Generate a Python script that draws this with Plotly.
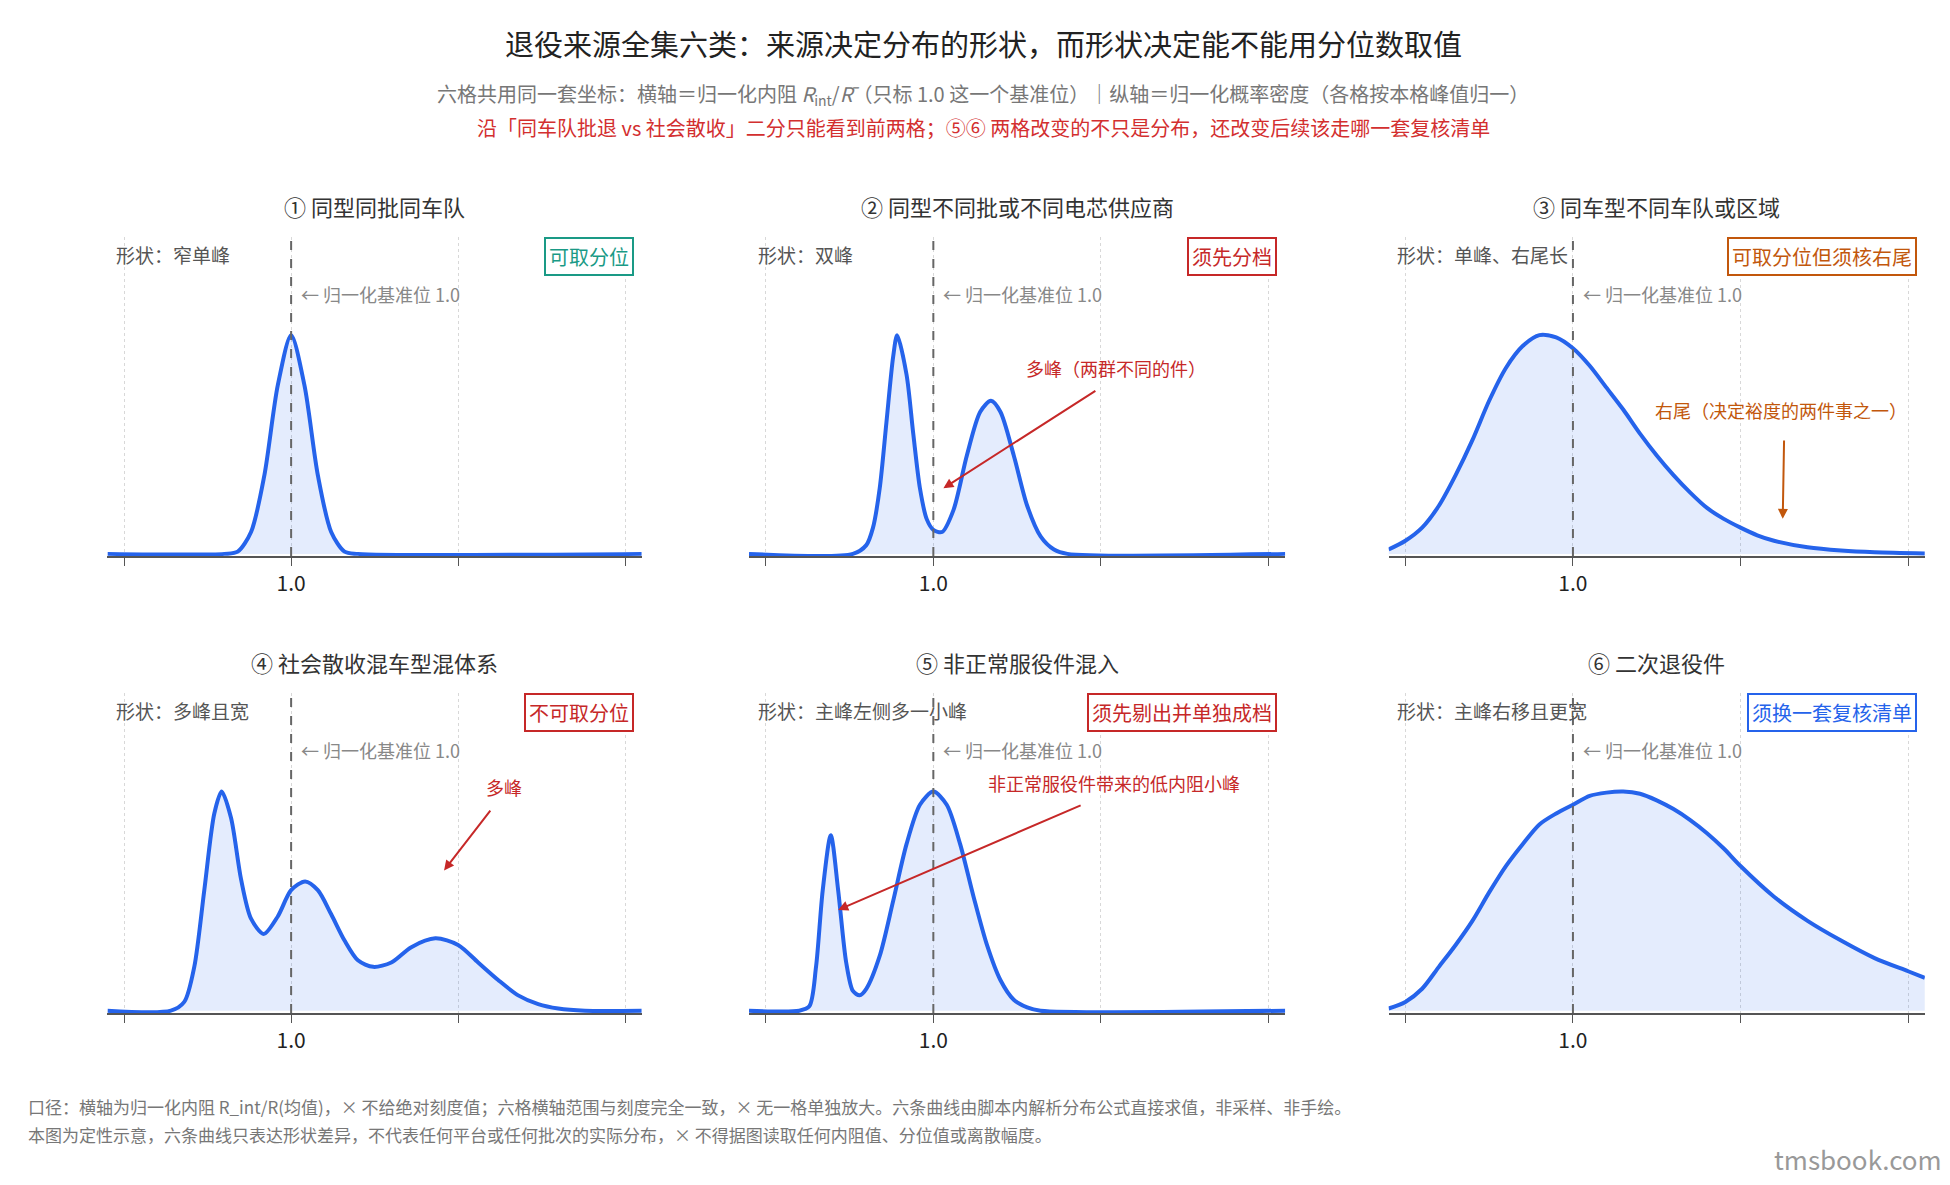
import plotly.graph_objects as go

# six panels: x = normalized R_int, y = density normalized to each panel's peak
p1_x = [0.725, 0.90, 0.92, 0.94, 0.96, 0.98, 1.0, 1.02, 1.04, 1.06, 1.08, 1.10, 1.525]
p1_y = [0, 0, 0.01, 0.1, 0.36, 0.77, 1.0, 0.77, 0.36, 0.1, 0.01, 0, 0]

p2_x = [0.725, 0.88, 0.90, 0.91, 0.92, 0.93, 0.94, 0.946, 0.96, 0.97, 0.98, 0.99, 1.0, 1.013, 1.03, 1.05,
        1.07, 1.086, 1.10, 1.12, 1.14, 1.16, 1.18, 1.20, 1.525]
p2_y = [0, 0, 0.04, 0.12, 0.3, 0.6, 0.9, 1.0, 0.82, 0.55, 0.3, 0.16, 0.11, 0.10, 0.2, 0.45,
        0.65, 0.70, 0.65, 0.45, 0.22, 0.08, 0.02, 0, 0]

p3_x = [0.725, 0.75, 0.775, 0.80, 0.825, 0.85, 0.875, 0.90, 0.925, 0.95, 0.975, 1.0, 1.025, 1.05, 1.075,
        1.10, 1.125, 1.15, 1.175, 1.20, 1.225, 1.25, 1.275, 1.30, 1.35, 1.40, 1.45, 1.525]
p3_y = [0.02, 0.06, 0.12, 0.22, 0.36, 0.52, 0.7, 0.85, 0.95, 1.0, 0.99, 0.94, 0.86, 0.76, 0.66,
        0.55, 0.45, 0.36, 0.28, 0.21, 0.16, 0.12, 0.085, 0.06, 0.03, 0.015, 0.007, 0.002]

p4_x = [0.725, 0.82, 0.84, 0.855, 0.87, 0.885, 0.896, 0.91, 0.925, 0.94, 0.959, 0.98, 1.0, 1.021, 1.04,
        1.06, 1.08, 1.10, 1.123, 1.15, 1.18, 1.216, 1.25, 1.28, 1.31, 1.34, 1.37, 1.40, 1.44, 1.525]
p4_y = [0, 0, 0.04, 0.2, 0.55, 0.9, 1.0, 0.88, 0.6, 0.42, 0.35, 0.43, 0.55, 0.59, 0.55,
        0.44, 0.32, 0.23, 0.2, 0.22, 0.29, 0.33, 0.3, 0.22, 0.14, 0.07, 0.03, 0.01, 0, 0]

p5_x = [0.725, 0.80, 0.815, 0.825, 0.835, 0.847, 0.858, 0.87, 0.88, 0.89, 0.90, 0.92, 0.94, 0.96, 0.98,
        1.0, 1.02, 1.04, 1.06, 1.08, 1.10, 1.12, 1.14, 1.16, 1.525]
p5_y = [0, 0, 0.02, 0.2, 0.55, 0.80, 0.55, 0.22, 0.09, 0.07, 0.1, 0.25, 0.5, 0.76, 0.94,
        1.0, 0.94, 0.76, 0.52, 0.3, 0.14, 0.05, 0.015, 0, 0]

p6_x = [0.725, 0.75, 0.775, 0.80, 0.825, 0.85, 0.875, 0.90, 0.925, 0.95, 0.975, 1.0, 1.025, 1.05, 1.075,
        1.10, 1.125, 1.15, 1.175, 1.20, 1.225, 1.25, 1.30, 1.35, 1.40, 1.45, 1.50, 1.525]
p6_y = [0.01, 0.04, 0.1, 0.2, 0.3, 0.41, 0.54, 0.66, 0.76, 0.85, 0.9, 0.94, 0.98, 0.995, 1.0,
        0.99, 0.96, 0.92, 0.87, 0.81, 0.74, 0.66, 0.52, 0.41, 0.32, 0.24, 0.18, 0.15]

titles = ["① 同型同批同车队", "② 同型不同批或不同电芯供应商", "③ 同车型不同车队或区域",
          "④ 社会散收混车型混体系", "⑤ 非正常服役件混入", "⑥ 二次退役件"]
shapes_txt = ["形状：窄单峰", "形状：双峰", "形状：单峰、右尾长",
              "形状：多峰且宽", "形状：主峰左侧多一小峰", "形状：主峰右移且更宽"]
badges = ["可取分位", "须先分档", "可取分位但须核右尾", "不可取分位", "须先剔出并单独成档", "须换一套复核清单"]
badge_colors = ["#1a9a86", "#c62828", "#c2570c", "#c62828", "#c62828", "#2563eb"]
tick_vals = [0.75, 1.0, 1.25, 1.5]
tick_text = ["", "1.0", "", ""]

FONT = "Noto Sans CJK SC"
BLUE = "#2563eb"
series = [(p1_x, p1_y), (p2_x, p2_y), (p3_x, p3_y), (p4_x, p4_y), (p5_x, p5_y), (p6_x, p6_y)]
xdoms = [[0.051, 0.325], [0.380, 0.655], [0.708, 0.983]]
ydoms = [[0.5375, 0.807], [0.152, 0.422]]

fig = go.Figure()
ann = []
shp = []
for i, (xs, ys) in enumerate(series):
    n = i + 1
    xa = "x" if n == 1 else f"x{n}"
    ya = "y" if n == 1 else f"y{n}"
    row, col = divmod(i, 3)
    fig.add_trace(go.Scatter(x=xs, y=ys, mode="lines", line=dict(color=BLUE, width=4, shape="spline", smoothing=0.8),
                             fill="tozeroy", fillcolor="rgba(37,99,235,0.12)", xaxis=xa, yaxis=ya,
                             showlegend=False, hoverinfo="skip"))
    fig.layout[f"xaxis{'' if n == 1 else n}"] = dict(
        domain=xdoms[col], anchor=ya, range=[0.725, 1.525], tickvals=tick_vals, ticktext=tick_text,
        ticks="outside", ticklen=8, tickcolor="#555", showline=True, linecolor="#555", linewidth=1.5,
        showgrid=True, gridcolor="#d8d8d8", griddash="dot", zeroline=False,
        tickfont=dict(size=21, color="#222", family=FONT))
    fig.layout[f"yaxis{'' if n == 1 else n}"] = dict(
        domain=ydoms[row], anchor=xa, range=[-0.01, 1.45], visible=False)
    # baseline marker at 1.0
    shp.append(dict(type="line", xref=xa, yref=f"{ya} domain", x0=1.0, x1=1.0, y0=0, y1=1,
                    line=dict(color="#666", width=2, dash="dash")))
    ann.append(dict(text=titles[i], xref=f"{xa} domain", yref="paper", x=0.5, y=ydoms[row][1] + 0.011,
                    showarrow=False, font=dict(size=22, color="#333", family=FONT), yanchor="bottom"))
    ann.append(dict(text=shapes_txt[i], xref=xa, yref=ya, x=0.735, y=1.37, xanchor="left",
                    showarrow=False, font=dict(size=19, color="#555", family=FONT)))
    ann.append(dict(text=badges[i], xref=f"{xa} domain", yref=ya, x=0.985, y=1.36, xanchor="right",
                    showarrow=False, font=dict(size=20, color=badge_colors[i], family=FONT),
                    bordercolor=badge_colors[i], borderwidth=2, borderpad=3, bgcolor="white"))
    ann.append(dict(text="← 归一化基准位 1.0", xref=xa, yref=ya, x=1.012, y=1.19, xanchor="left",
                    showarrow=False, font=dict(size=18, color="#888", family=FONT)))

RED = "#c62828"
ORANGE = "#c2570c"
ann += [
    dict(text="多峰（两群不同的件）", xref="x2", yref="y2", x=1.272, y=0.85, showarrow=False,
         font=dict(size=18, color=RED, family=FONT)),
    dict(x=1.015, y=0.30, ax=1.244, ay=0.75, xref="x2", yref="y2", axref="x2", ayref="y2",
         showarrow=True, arrowhead=2, arrowwidth=2, arrowcolor=RED, text=""),
    dict(text="右尾（决定裕度的两件事之一）", xref="x3", yref="y3", x=1.311, y=0.66, showarrow=False,
         font=dict(size=18, color=ORANGE, family=FONT)),
    dict(x=1.313, y=0.16, ax=1.315, ay=0.525, xref="x3", yref="y3", axref="x3", ayref="y3",
         showarrow=True, arrowhead=2, arrowwidth=2, arrowcolor=ORANGE, text=""),
    dict(text="多峰", xref="x4", yref="y4", x=1.319, y=1.02, showarrow=False,
         font=dict(size=18, color=RED, family=FONT)),
    dict(x=1.229, y=0.64, ax=1.30, ay=0.92, xref="x4", yref="y4", axref="x4", ayref="y4",
         showarrow=True, arrowhead=2, arrowwidth=2, arrowcolor=RED, text=""),
    dict(text="非正常服役件带来的低内阻小峰", xref="x5", yref="y5", x=1.27, y=1.04, showarrow=False,
         font=dict(size=18, color=RED, family=FONT)),
    dict(x=0.858, y=0.46, ax=1.222, ay=0.94, xref="x5", yref="y5", axref="x5", ayref="y5",
         showarrow=True, arrowhead=2, arrowwidth=2, arrowcolor=RED, text=""),
    dict(text="退役来源全集六类：来源决定分布的形状，而形状决定能不能用分位数取值", xref="paper", yref="paper",
         x=0.5, y=0.99, showarrow=False, font=dict(size=29, color="#222", family=FONT)),
    dict(text="六格共用同一套坐标：横轴＝归一化内阻 <i>R</i><sub>int</sub>/<i>R̄</i>（只标 1.0 这一个基准位）｜纵轴＝归一化概率密度（各格按本格峰值归一）",
         xref="paper", yref="paper", x=0.5, y=0.942, showarrow=False, font=dict(size=20, color="#777", family=FONT)),
    dict(text="沿「同车队批退 vs 社会散收」二分只能看到前两格；⑤⑥ 两格改变的不只是分布，还改变后续该走哪一套复核清单",
         xref="paper", yref="paper", x=0.5, y=0.913, showarrow=False, font=dict(size=20, color="#d32f2f", family=FONT)),
    dict(text="口径：横轴为归一化内阻 R_int/R(均值)，× 不给绝对刻度值；六格横轴范围与刻度完全一致，× 无一格单独放大。六条曲线由脚本内解析分布公式直接求值，非采样、非手绘。",
         xref="paper", yref="paper", x=0.009, y=0.061, xanchor="left", showarrow=False,
         font=dict(size=17, color="#777", family=FONT)),
    dict(text="本图为定性示意，六条曲线只表达形状差异，不代表任何平台或任何批次的实际分布，× 不得据图读取任何内阻值、分位值或离散幅度。",
         xref="paper", yref="paper", x=0.009, y=0.037, xanchor="left", showarrow=False,
         font=dict(size=17, color="#777", family=FONT)),
    dict(text="tmsbook.com", xref="paper", yref="paper", x=0.993, y=0.012, xanchor="right", showarrow=False,
         font=dict(size=26, color="#999", family=FONT)),
]

fig.update_layout(width=1950, height=1185, margin=dict(l=0, r=0, t=0, b=0),
                  paper_bgcolor="white", plot_bgcolor="white", annotations=ann, shapes=shp,
                  font=dict(family=FONT))
fig.write_html("out.html")
